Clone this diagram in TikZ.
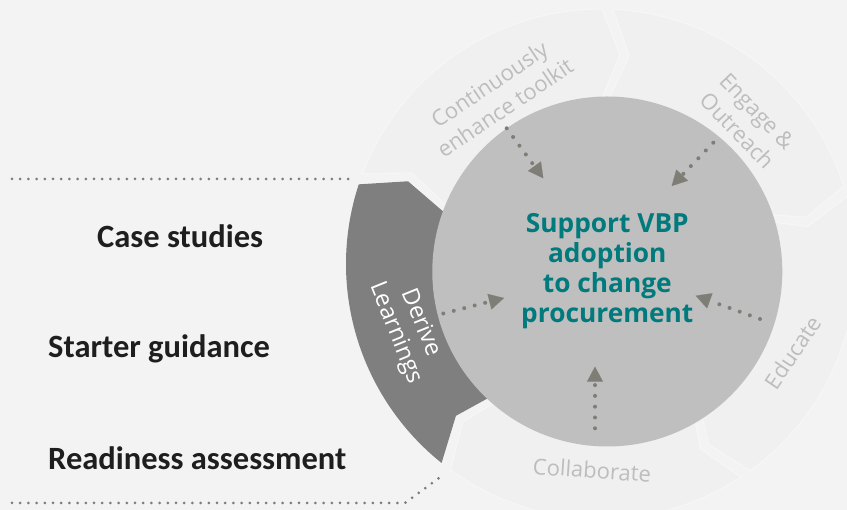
\documentclass[tikz,border=0pt]{standalone}
\usepackage{fontspec}
\setmainfont{Open Sans}
\newfontfamily\calfont{Carlito}
\usetikzlibrary{arrows.meta}
\definecolor{bgc}{HTML}{F3F3F3}
\definecolor{ringc}{HTML}{F0F0F0}
\definecolor{ringedge}{HTML}{F6F6F6}
\definecolor{darkseg}{HTML}{7F7F7F}
\definecolor{circc}{HTML}{BFBFBF}
\definecolor{tealc}{HTML}{007A7C}
\definecolor{ringtext}{HTML}{BDBDBD}
\definecolor{dotc}{HTML}{7E7E76}
\definecolor{labelc}{HTML}{1E1E1E}
% #1 = head corner angle, #2 = style
\newcommand\ringseg[2]{%
  \path[#2] (#1:255) arc[start angle=#1, end angle={#1+69.5}, radius=255]
    -- ({#1+64.5}:210) -- ({#1+69.5}:165)
    arc[start angle={#1+69.5}, end angle=#1, radius=165]
    -- ({#1-5}:210) -- cycle;}
\begin{document}
\begin{tikzpicture}[x=1pt,y=1pt,
  ringlabel/.style={text=ringtext, font=\fontsize{22}{28}\selectfont, align=center, inner sep=0pt},
  listlabel/.style={text=labelc, font=\calfont\bfseries\fontsize{32.5}{38}\selectfont, anchor=base west, inner sep=0pt},
  sepline/.style={draw=dotc, line width=3pt, dash pattern=on 0pt off 8.2pt, line cap=round},
  flow/.style={draw=dotc, line width=4pt, dash pattern=on 0pt off 10.8pt, line cap=round,
    -{Triangle[length=15pt,width=16pt,line width=0.1pt,fill=dotc]}},
  lightseg/.style={fill=ringc, draw=ringedge, line width=1.2pt},
  darksegstyle/.style={fill=darkseg},
  hubstyle/.style={circle, fill=circc, minimum size=350pt, inner sep=0pt, text=tealc,
    font=\bfseries\fontsize{26.3}{30}\selectfont, align=center}
]
\fill[bgc] (0,0) rectangle (847,510);
\useasboundingbox (0,0) rectangle (847,510);
\begin{scope}
\clip (0,0) rectangle (847,510);
\begin{scope}[shift={(601,246)}]
  \ringseg{89.8}{lightseg}
  \ringseg{17.8}{lightseg}
  \ringseg{-54.2}{lightseg}
  \ringseg{-126.2}{lightseg}
  \ringseg{161.8}{darksegstyle}
\end{scope}
\end{scope}

% hub
\node[hubstyle] (hub) at (607.3,238.5) {Support VBP\\adoption\\to change\\procurement};

% ring labels
\node[ringlabel, rotate=34] (cont) at (497,414) {Continuously\\enhance toolkit};
\node[ringlabel, rotate=-46] (engage) at (747,389) {Engage \&\\Outreach};
\node[ringlabel, rotate=56] (educ) at (792.5,157.5) {Educate};
\node[ringlabel, rotate=-4] (coll) at (592,40) {Collaborate};
\node[ringlabel, text=white, rotate=-68, font=\fontsize{23.5}{27}\selectfont] (derive) at (408,182) {Derive\\Learnings};

% list labels
\node[listlabel] (case) at (97,262) {Case studies};
\node[listlabel] (starter) at (48,152) {Starter guidance};
\node[listlabel] (ready) at (48,40) {Readiness assessment};

% separators
\coordinate (t1) at (12,331);
\coordinate (t2) at (350,331);
\coordinate (b1) at (12,7);
\coordinate (b2) at (405,7);
\coordinate (b3) at (443,35);
\draw[sepline] (t1) -- (t2);
\draw[sepline] (b1) -- (b2) -- (b3);

% flow arrows
\coordinate (a1s) at (506.7,381.7); \coordinate (a1e) at (543.3,331.7);
\coordinate (a2s) at (713.3,367.3); \coordinate (a2e) at (671.7,324);
\coordinate (a3s) at (443.3,196.5); \coordinate (a3e) at (504,212);
\coordinate (a4s) at (760,191);     \coordinate (a4e) at (695.7,214.3);
\coordinate (a5s) at (595,81.7);    \coordinate (a5e) at (595,143.3);
\draw[flow] (a1s) -- (a1e);
\draw[flow] (a2s) -- (a2e);
\draw[flow] (a3s) -- (a3e);
\draw[flow] (a4s) -- (a4e);
\draw[flow] (a5s) -- (a5e);
\end{tikzpicture}
\end{document}
